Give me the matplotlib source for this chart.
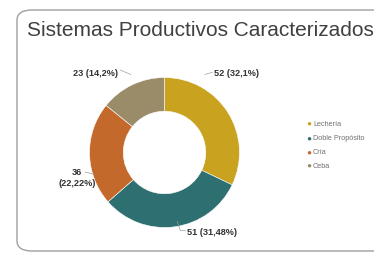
import numpy as np
import matplotlib
matplotlib.use('Agg')
import matplotlib.pyplot as plt
from matplotlib.patches import FancyBboxPatch

# data
categories = ['Lechería', 'Doble Propósito', 'Cría', 'Ceba']
values = [52, 51, 36, 23]
pct_labels = ['52 (32,1%)', '51 (31,48%)', '36\n(22,22%)', '23 (14,2%)']
colors = ['#C9A21F', '#2E6F72', '#C4692C', '#9A8B69']

plt.rcParams['font.family'] = ['Liberation Sans', 'DejaVu Sans']

fig = plt.figure(figsize=(3.74, 2.55), dpi=100)

# card border
card = FancyBboxPatch((17/374, 3/255), 400/374, 241/255,
                      boxstyle='round,pad=0,rounding_size=0.04',
                      transform=fig.transFigure, fill=False,
                      edgecolor='#A0A0A0', linewidth=1.0, clip_on=False)
fig.patches.append(card)

fig.text(27/374, 1 - 30/255, 'Sistemas Productivos Caracterizados',
         fontsize=15, color='#404040', va='center', ha='left')

ax = fig.add_axes([89.5/374, 26.5/255, 150/374, 150/255])
wedges, _ = ax.pie(values, colors=colors, startangle=90, counterclock=False,
                   radius=1.0, wedgeprops=dict(width=0.45, edgecolor='white', linewidth=0.4))
ax.set_xlim(-1, 1)
ax.set_ylim(-1, 1)
ax.set_aspect('equal')
ax.axis('off')

# label placement and leader lines (layout only)
lab_pos = [(0.66, 1.06), (0.30, -1.06), (-1.17, -0.33), (-0.62, 1.06)]
lab_ha = ['left', 'left', 'center', 'right']
leaders = [([0.54, 0.64], [1.04, 1.07]),
           ([0.17, 0.21, 0.28], [-0.92, -1.04, -1.04]),
           ([-1.06, -0.94], [-0.26, -0.29]),
           ([-0.59, -0.45], [1.10, 1.04])]
for i in range(len(values)):
    ax.text(lab_pos[i][0], lab_pos[i][1], pct_labels[i], ha=lab_ha[i], va='center',
            fontsize=6.6, fontweight='bold', color='#333333', linespacing=1.3,
            clip_on=False)
    ax.plot(leaders[i][0], leaders[i][1], color='#A0A0A0', lw=0.5, clip_on=False)

# legend
leg_y = [124, 139, 153, 166]
for i in range(len(categories)):
    fig.text(306/374, 1 - leg_y[i]/255, '\u25CF', color=colors[i],
             fontsize=6, va='center', ha='left')
    fig.text(313/374, 1 - leg_y[i]/255, categories[i], color='#707070',
             fontsize=5.2, va='center', ha='left')

fig.savefig('out.png', dpi=100)
